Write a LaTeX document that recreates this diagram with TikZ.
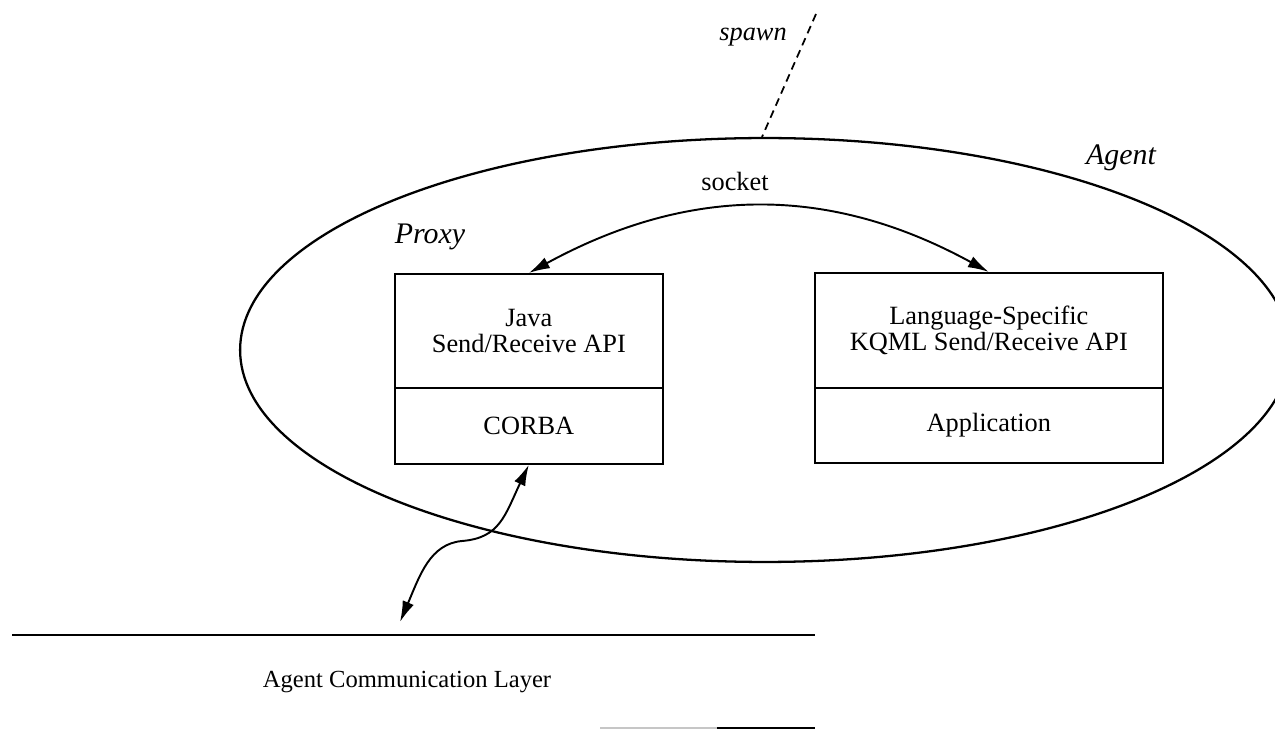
\documentclass[tikz,border=0pt]{standalone}
\usepackage{fontspec}
\setmainfont{Liberation Serif}
\usetikzlibrary{arrows.meta,shapes.geometric}
\begin{document}
\begin{tikzpicture}[x=0.02cm,y=-0.02cm,
  every node/.style={font=\fontsize{15}{15}\selectfont},
  part/.style={draw, line width=1pt, inner sep=0pt, align=center, anchor=north west},
  lbl/.style={font=\fontsize{17}{20}\selectfont\itshape},
  link/.style={line width=1.1pt, {Latex[length=4.2mm,width=2.4mm]}-{Latex[length=4.2mm,width=2.4mm]}},
]
\useasboundingbox (0,0) rectangle (1275,729);

% the agent process
\node[draw, ellipse, line width=1.3pt, minimum width=21.0cm, minimum height=8.48cm, inner sep=0pt] (agent) at (765,350) {};
\node[lbl] (agentlbl) at (1121,158) {Agent};

% spawn link
\coordinate (spawntop) at (816,14);
\coordinate (spawnfoot) at (762,137);
\draw[line width=1pt, dash pattern=on 4.5pt off 3pt] (spawntop) -- (spawnfoot);
\node[lbl, font=\fontsize{15}{18}\selectfont\itshape] (spawnlbl) at (753,37) {spawn};

% proxy boxes
\node[lbl] (proxylbl) at (430,237) {Proxy};
\node[part, minimum width=5.36cm, minimum height=2.28cm] (proxytop) at (394,273) {Java\\Send/Receive API};
\node[part, minimum width=5.36cm, minimum height=1.52cm] (proxybot) at (394,387) {CORBA};

% application boxes
\node[part, minimum width=6.96cm, minimum height=2.3cm] (apptop) at (814,272) {Language-Specific\\KQML Send/Receive API};
\node[part, minimum width=6.96cm, minimum height=1.5cm] (appbot) at (814,387) {Application};

% socket connection
\node (socketlbl) at (735,181) {socket};
\draw[link] (proxytop.north) .. controls (690,185) and (830,185) .. (apptop.north);

% communication layer
\draw[line width=1.2pt] (12,635) -- (815,635);
\draw[line width=1.2pt] (717,728) -- (815,728);
\draw[gray!45, line width=0.8pt] (600,728) -- (717,728);
\node[font=\fontsize{14}{16}\selectfont] (acl) at (407,682) {Agent Communication Layer};
\coordinate (aclin) at (400,622);
\draw[link] (proxybot.south) .. controls (505,515) and (500,538) .. (462,541)
  .. controls (430,544) and (420,575) .. (aclin);
\end{tikzpicture}
\end{document}
